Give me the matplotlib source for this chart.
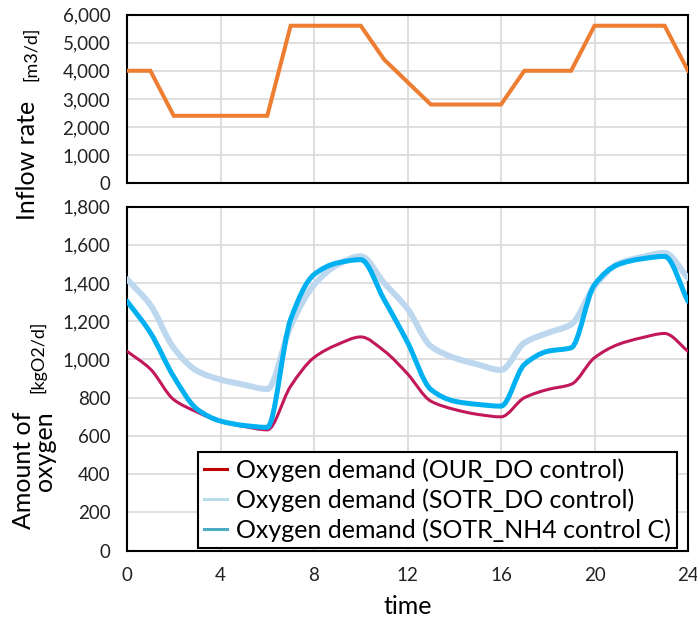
import numpy as np
import matplotlib
matplotlib.use('Agg')
import matplotlib.pyplot as plt
from matplotlib.path import Path
from matplotlib.patches import PathPatch
from matplotlib.lines import Line2D

plt.rcParams['font.family'] = ['Lato', 'DejaVu Sans']

# hourly values
hours = list(range(25))
inflow = [4000, 4000, 2400, 2400, 2400, 2400, 2400, 5600, 5600, 5600, 5600, 4400, 3600,
          2800, 2800, 2800, 2800, 4000, 4000, 4000, 5600, 5600, 5600, 5600, 4000]
our_do = [1043, 950, 790, 725, 675, 650, 632, 860, 1010, 1078, 1118, 1045, 925,
          782, 739, 713, 700, 800, 843, 870, 1009, 1078, 1113, 1136, 1043]
sotr_do = [1420, 1285, 1060, 940, 895, 868, 845, 1175, 1390, 1495, 1540, 1400, 1265,
           1069, 1009, 974, 945, 1087, 1139, 1183, 1383, 1500, 1535, 1557, 1426]
sotr_nh4 = [1305, 1140, 910, 740, 678, 655, 645, 1210, 1444, 1505, 1522, 1313, 1090,
            843, 782, 765, 756, 974, 1043, 1061, 1391, 1496, 1526, 1539, 1304]

legend_labels = ['Oxygen demand (OUR_DO control)',
                 'Oxygen demand (SOTR_DO control)',
                 'Oxygen demand (SOTR_NH4 control C)']


def smooth_path(x, y):
    # smoothed line as bezier segments, monotone tangents so it doesn't overshoot
    x = np.asarray(x, float)
    y = np.asarray(y, float)
    dx = np.diff(x)
    d = np.diff(y) / dx
    m = np.empty_like(y)
    m[0], m[-1] = d[0], d[-1]
    for i in range(1, len(y) - 1):
        if d[i - 1] * d[i] <= 0:
            m[i] = 0
        else:
            m[i] = 2 / (1 / d[i - 1] + 1 / d[i])
    verts = [(x[0], y[0])]
    codes = [Path.MOVETO]
    for i in range(len(x) - 1):
        h = dx[i] / 3
        verts += [(x[i] + h, y[i] + m[i] * h), (x[i + 1] - h, y[i + 1] - m[i + 1] * h),
                  (x[i + 1], y[i + 1])]
        codes += [Path.CURVE4] * 3
    return Path(verts, codes)


W, H = 697, 618
fig = plt.figure(figsize=(W / 100, H / 100), dpi=100)
ax1 = fig.add_axes([127 / W, 1 - 183.3 / H, 561 / W, (183.3 - 14.5) / H])
ax2 = fig.add_axes([127 / W, 1 - 550.7 / H, 561 / W, (550.7 - 206.5) / H])

ax1.plot(hours, inflow, color='#ED7D31', lw=2.9, solid_joinstyle='miter', zorder=3)
ax1.set_ylim(0, 6000)
ax1.set_yticks(range(0, 6001, 1000))
ax1.set_yticklabels([f'{v:,}' for v in range(0, 6001, 1000)])

for ys, col, lw in [(our_do, '#C2185B', 2.2), (sotr_do, '#BDD7EE', 4.3), (sotr_nh4, '#00B0F0', 3.6)]:
    ax2.add_patch(PathPatch(smooth_path(hours, ys), fill=False, edgecolor=col, lw=lw,
                            capstyle='round', joinstyle='round', zorder=3))
ax2.set_ylim(0, 1800)
ax2.set_yticks(range(0, 1801, 200))
ax2.set_yticklabels([f'{v:,}' for v in range(0, 1801, 200)])

for ax in (ax1, ax2):
    ax.set_xlim(0, 24)
    ax.set_xticks(range(0, 25, 4))
    ax.grid(True, color='#D9D9D9', lw=1.2, zorder=0)
    ax.set_axisbelow(True)
    ax.tick_params(length=0, labelsize=13.5, colors='#222222')
    ax.tick_params(axis='y', pad=12)
    ax.tick_params(axis='x', pad=12)
    for s in ax.spines.values():
        s.set_linewidth(1.5)
        s.set_color('black')
ax1.tick_params(labelbottom=False)

handles = [Line2D([], [], color=c, lw=2.2) for c in ['#C00000', '#B7DEE8', '#4BACC6']]
leg = ax2.legend(handles, legend_labels, loc='lower left',
                 bbox_to_anchor=((198 - 127) / 561, (550.7 - 548) / 344.2),
                 fontsize=18, frameon=True, fancybox=False, framealpha=1,
                 edgecolor='black', handlelength=0.9, handletextpad=0.35,
                 labelspacing=0.25, borderpad=0.25, borderaxespad=0)
leg.get_frame().set_linewidth(1.5)

fig.text(28 / W, 1 - 160 / H, 'Inflow rate', rotation=90, ha='center', va='center', fontsize=18)
fig.text(31 / W, 1 - 54 / H, '[m3/d]', rotation=90, ha='center', va='center', fontsize=13)
fig.text(34 / W, 1 - 470 / H, 'Amount of\noxygen', rotation=90, ha='center', va='center',
         fontsize=18, multialignment='right', linespacing=0.9)
fig.text(38 / W, 1 - 357 / H, '[kgO2/d]', rotation=90, ha='center', va='center', fontsize=13)
fig.text(407.5 / W, 1 - 607 / H, 'time', ha='center', va='center', fontsize=18)

fig.savefig('out.png', dpi=100)
